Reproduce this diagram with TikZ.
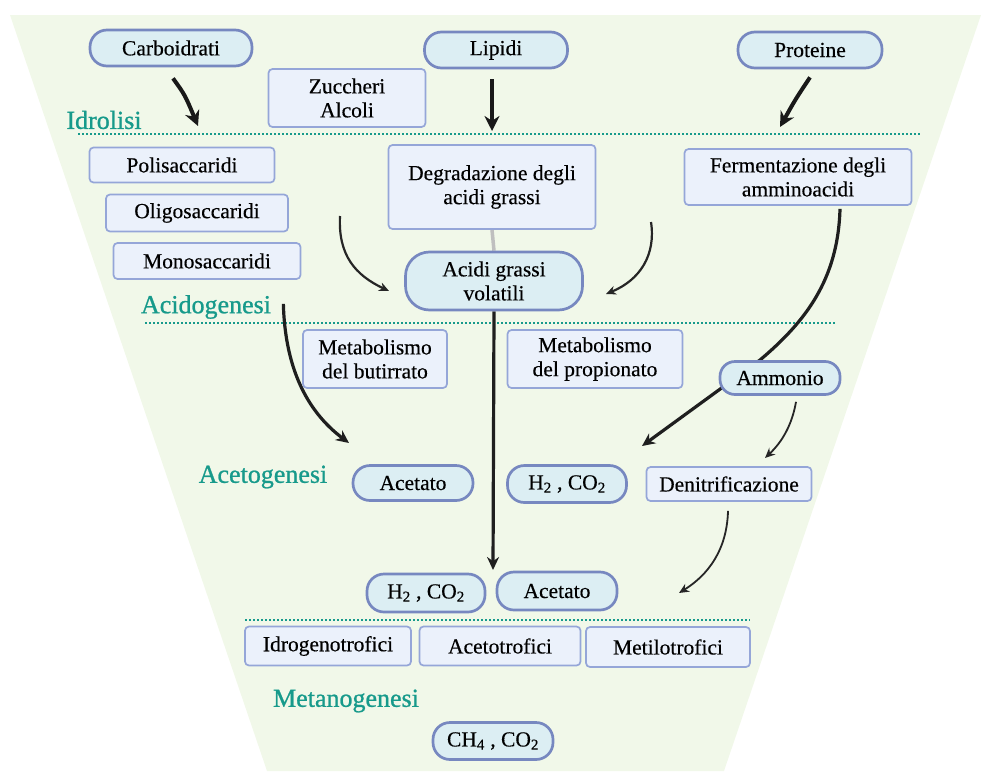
\documentclass[tikz,border=0pt]{standalone}
\usepackage{fontspec}
\setmainfont{Liberation Serif}
\newfontfamily\labfamily[FakeBold=0.9]{Liberation Serif}
\newfontfamily\nodefamily[FakeBold=0.35]{Liberation Serif}
\usetikzlibrary{arrows.meta,calc}
\pgfdeclarelayer{bgzero}
\pgfdeclarelayer{bgone}
\pgfsetlayers{bgzero,bgone,main}
\definecolor{trap}{HTML}{F1F8E9}
\definecolor{pillfill}{HTML}{DCEEF3}
\definecolor{pillline}{HTML}{7788C0}
\definecolor{boxfill}{HTML}{EBF1FB}
\definecolor{boxline}{HTML}{95A6D8}
\definecolor{tealc}{HTML}{179A8B}
\newcommand{\nodefont}{\nodefamily\fontsize{21.5}{24}\selectfont}
\newcommand{\labfont}{\labfamily\fontsize{26}{28}\selectfont}
\begin{document}
\begin{tikzpicture}[x=1pt,y=-1pt,
  pill/.style={draw=pillline, fill=pillfill, line width=2.7pt, rounded corners=17pt, inner sep=0pt, align=center, font=\nodefont},
  boxn/.style={draw=boxline, fill=boxfill, line width=1.7pt, rounded corners=4pt, inner sep=0pt, align=center, font=\nodefont},
  phase/.style={text=tealc, font=\labfont, inner sep=0pt},
  sep/.style={draw=tealc, line width=2pt, dash pattern=on 2pt off 2pt},
  bigarrow/.style={draw=black!90, line width=4pt, -{Stealth[length=15pt,width=15pt]}},
  midarrow/.style={draw=black!88, line width=3.2pt, -{Stealth[length=13pt,width=12pt]}},
  thinarrow/.style={draw=black!85, line width=1.8pt, -{Stealth[length=10pt,width=9pt]}},
  link/.style={draw=black!25, line width=3.5pt}
]
\useasboundingbox (0,0) rectangle (981,771);
\begin{pgfonlayer}{bgzero}
  \fill[trap] (10,15) -- (981,15) -- (724,771) -- (267,771) -- cycle;
\end{pgfonlayer}

% nodes
\node[pill, minimum width=162pt, minimum height=36pt] (carb) at (171,48) {Carboidrati};
\node[pill, minimum width=143pt, minimum height=36pt] (lip) at (496,50) {Lipidi};
\node[pill, minimum width=144pt, minimum height=36pt] (prot) at (810,50) {Proteine};
\node[boxn, minimum width=157pt, minimum height=58pt] (zuc) at (347,98) {Zuccheri\\Alcoli};

\node[boxn, minimum width=185pt, minimum height=35pt] (poli) at (182,165) {Polisaccaridi};
\node[boxn, minimum width=182pt, minimum height=37pt] (oligo) at (197,213) {Oligosaccaridi};
\node[boxn, minimum width=187pt, minimum height=36pt] (mono) at (207,261) {Monosaccaridi};
\node[boxn, minimum width=207pt, minimum height=84pt] (degr) at (492,187) {Degradazione degli\\acidi grassi};
\node[boxn, minimum width=227pt, minimum height=56pt] (ferm) at (798,177) {Fermentazione degli\\amminoacidi};
\node[pill, rounded corners=24pt, minimum width=177pt, minimum height=58pt] (agv) at (494,281) {Acidi grassi\\volatili};

\node[boxn, minimum width=144pt, minimum height=58pt] (butir) at (375,359) {Metabolismo\\del butirrato};
\node[boxn, minimum width=175pt, minimum height=58pt] (prop) at (595,359) {Metabolismo\\del propionato};
\node[pill, rounded corners=15pt, minimum width=120pt, minimum height=33pt] (ammo) at (780,378) {Ammonio};

\node[pill, minimum width=120pt, minimum height=35pt] (acet1) at (413,483) {Acetato};
\node[pill, minimum width=119pt, minimum height=37pt] (h2a) at (567,484) {H\textsubscript{2} , CO\textsubscript{2}};
\node[boxn, minimum width=165pt, minimum height=34pt] (denit) at (729,484) {Denitrificazione};

\node[pill, minimum width=118pt, minimum height=38pt] (h2b) at (426,593) {H\textsubscript{2} , CO\textsubscript{2}};
\node[pill, minimum width=120pt, minimum height=38pt] (acet2) at (557,591) {Acetato};

\node[boxn, minimum width=166pt, minimum height=39pt] (idro) at (328,646) {Idrogenotrofici};
\node[boxn, minimum width=161pt, minimum height=39pt] (acetot) at (500,646) {Acetotrofici};
\node[boxn, minimum width=164pt, minimum height=40pt] (metil) at (668,647) {Metilotrofici};
\node[pill, minimum width=120pt, minimum height=37pt] (ch4) at (493,741) {CH\textsubscript{4} , CO\textsubscript{2}};

% phase labels
\node[phase] (lidro) at (104,120) {Idrolisi};
\node[phase] (lacido) at (206,307) {Acidogenesi};
\node[phase] (laceto) at (263,477) {Acetogenesi};
\node[phase] (lmetano) at (346,701) {Metanogenesi};

% free ends
\coordinate (carbend) at (198,126);
\coordinate (lipend) at (492,131);
\coordinate (protend) at (780,127);
\coordinate (lcstart) at (340,216);
\coordinate (lcend) at (389,291);
\coordinate (rcstart) at (651,222);
\coordinate (rcend) at (606,294);
\coordinate (centend) at (493,570);
\coordinate (butend) at (349,443);
\coordinate (nh3end) at (642,446);
\coordinate (denend) at (765,458);
\coordinate (finend) at (679,593);
\coordinate (sepAa) at (78,134);
\coordinate (sepAb) at (920,134);
\coordinate (sepBa) at (145,323);
\coordinate (sepBb) at (836,323);
\coordinate (sepCa) at (245,620);
\coordinate (sepCb) at (750,620);

\begin{pgfonlayer}{bgone}
  \path[sep] (sepAa) -- (sepAb);
  \path[sep] (sepBa) -- (sepBb);
  \path[sep] (sepCa) -- (sepCb);

  \path[bigarrow] ($(carb.south)+(2,11)$) .. controls (185,95) .. (carbend);
  \path[bigarrow] ($(lip.south)+(-4,10)$) -- (lipend);
  \path[bigarrow] ($(prot.south)+(0,8)$) .. controls (795,100) .. (protend);

  \path[link] (degr.south) -- (agv.north);
  \path[thinarrow, line width=2.2pt] (lcstart) .. controls (338,255) and (355,275) .. (lcend);
  \path[thinarrow, line width=2.2pt] (rcstart) .. controls (656,255) and (640,280) .. (rcend);

  \path[midarrow] (agv.south) -- (centend);
  \path[midarrow] ($(mono.south east)+(-18,24)$) .. controls (285,365) and (305,410) .. (butend);
  \path[midarrow] ($(ferm.south)+(42,3)$) .. controls (838,280) and (805,322) .. (760,360) -- (nh3end);
  \path[thinarrow] ($(ammo.south)+(16,6)$) .. controls (792,425) and (782,442) .. (denend);
  \path[thinarrow] ($(denit.south)+(-1,9)$) .. controls (727,550) and (708,575) .. (finend);
\end{pgfonlayer}
\end{tikzpicture}
\end{document}
